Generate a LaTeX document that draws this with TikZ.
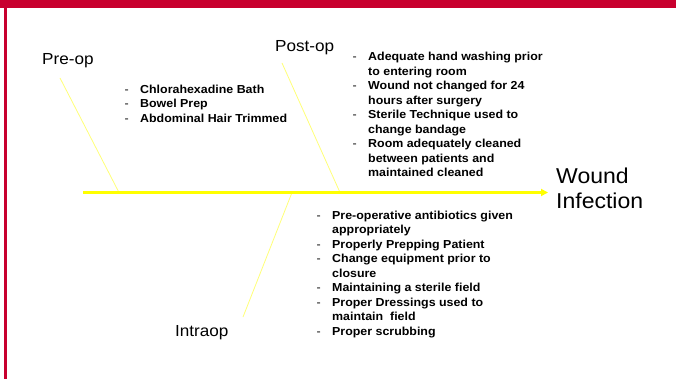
\documentclass[tikz,border=0pt]{standalone}
\usepackage{fontspec}
\setmainfont[FakeStretch=1.07]{Liberation Sans}
\usetikzlibrary{arrows.meta}
\definecolor{barred}{RGB}{200,0,46}
\definecolor{spineyel}{RGB}{255,255,0}
\definecolor{boneyel}{RGB}{255,255,120}
\tikzset{
  catlabel/.style={inner sep=0pt, anchor=base west, font=\fontsize{16}{19}\selectfont},
  headlabel/.style={inner sep=0pt, anchor=north west, align=left, font=\fontsize{21.5}{25}\selectfont},
  causelist/.style={inner sep=0pt, anchor=north west, align=left, font=\fontsize{11.6}{14.5}\selectfont\bfseries},
  spine/.style={draw=spineyel, line width=3pt, -{Triangle[length=7pt,width=7pt]}},
  bone/.style={draw=boneyel, line width=0.8pt},
}
\newcommand{\bul}[1]{\makebox[15.5pt][l]{\mdseries -}#1}
\newcommand{\cont}[1]{\hspace*{15.5pt}#1}
\begin{document}
\begin{tikzpicture}[x=1pt,y=-1pt]
\useasboundingbox (0,0) rectangle (676,379);
\fill[white] (0,0) rectangle (676,379);
\fill[barred] (0,0) rectangle (676,8.5);
\fill[barred] (4,0) rectangle (7,379);

% labels
\node[catlabel] (pre) at (42,65) {Pre-op};
\node[catlabel] (post) at (275,52) {Post-op};
\node[catlabel] (intra) at (175,336.5) {Intraop};
\node[headlabel] (head) at (556,167.5) {Wound\\Infection};

% spine and bones
\coordinate (tail) at (83,192.5);
\coordinate (preTop) at (60,78);
\coordinate (preEnd) at (119,192.5);
\coordinate (postTop) at (282,63);
\coordinate (postEnd) at (340,192.5);
\coordinate (intraEnd) at (292,192.5);
\coordinate (intraBot) at (243,317);
\draw[bone] (preTop) -- (preEnd);
\draw[bone] (postTop) -- (postEnd);
\draw[bone] (intraEnd) -- (intraBot);
\draw[spine, shorten >=8pt] (tail) -- (tail -| head.west);

% cause lists
\node[causelist] (prelist) at (124.5,84.5) {%
\bul{Chlorahexadine Bath}\\
\bul{Bowel Prep}\\
\bul{Abdominal Hair Trimmed}};

\node[causelist] (postlist) at (352.5,52) {%
\bul{Adequate hand washing prior}\\
\cont{to entering room}\\
\bul{Wound not changed for 24}\\
\cont{hours after surgery}\\
\bul{Sterile Technique used to}\\
\cont{change bandage}\\
\bul{Room adequately cleaned}\\
\cont{between patients and}\\
\cont{maintained cleaned}};

\node[causelist] (intralist) at (316.5,210.5) {%
\bul{Pre-operative antibiotics given}\\
\cont{appropriately}\\
\bul{Properly Prepping Patient}\\
\bul{Change equipment prior to}\\
\cont{closure}\\
\bul{Maintaining a sterile field}\\
\bul{Proper Dressings used to}\\
\cont{maintain\ \ field}\\
\bul{Proper scrubbing}};
\end{tikzpicture}
\end{document}
